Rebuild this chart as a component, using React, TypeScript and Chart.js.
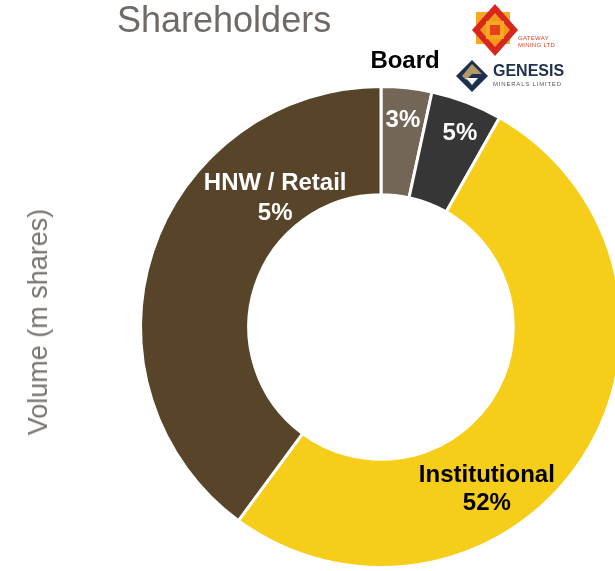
import React, { useEffect, useRef } from "react";
import { Chart, registerables } from "chart.js";

Chart.register(...registerables);

const categories = ["Board", "Genesis", "Institutional", "HNW / Retail"];
const shares = [3.4, 4.8, 51.9, 39.9];
const labelTexts = ["3%", "5%", "52%", "5%"];
const sliceColors = ["#736656", "#363636", "#F6CD18", "#574429"];

// label anchor offsets relative to the doughnut centre, in outer-radius units
const labelLayout = [
  { name: "Board", nameColor: "#000000", pctColor: "#ffffff", nx: 0.1, ny: -1.106, px: 0.091, py: -0.86 },
  { name: "", nameColor: "#ffffff", pctColor: "#ffffff", nx: 0, ny: 0, px: 0.328, py: -0.807 },
  { name: "Institutional", nameColor: "#000000", pctColor: "#000000", nx: 0.44, ny: 0.615, px: 0.44, py: 0.732 },
  { name: "HNW / Retail", nameColor: "#ffffff", pctColor: "#ffffff", nx: -0.44, ny: -0.599, px: -0.44, py: -0.474 },
];

const labelPlugin = {
  id: "sliceLabels",
  afterDatasetsDraw(chart: any) {
    const meta = chart.getDatasetMeta(0);
    const ctx = chart.ctx;
    ctx.save();
    ctx.textAlign = "center";
    ctx.textBaseline = "middle";
    ctx.font = "bold 24px 'Liberation Sans', Arial, sans-serif";
    meta.data.forEach((arc: any, i: number) => {
      const L = labelLayout[i];
      const cx = arc.x;
      const cy = arc.y;
      const r = arc.outerRadius;
      if (L.name) {
        ctx.fillStyle = L.nameColor;
        ctx.fillText(L.name, cx + L.nx * r, cy + L.ny * r);
      }
      ctx.fillStyle = L.pctColor;
      ctx.fillText(labelTexts[i], cx + L.px * r, cy + L.py * r);
    });
    ctx.restore();
  },
};

function GatewayLogo() {
  return (
    <div style={{ position: "absolute", left: 470, top: 2, width: 100, height: 56 }}>
      <svg width="50" height="56" viewBox="0 0 50 56" style={{ position: "absolute", left: 0, top: 0 }}>
        <rect x="6" y="10" width="34" height="32" fill="#F7A823" />
        <polygon points="25,2 48,28 25,54 2,28" fill="#D9261C" />
        <polygon points="25,11 40,28 25,45 10,28" fill="#F39A1D" />
        <rect x="16" y="19" width="18" height="18" fill="#F7A823" />
        <rect x="20" y="23" width="10" height="10" fill="#E8401C" />
      </svg>
      <div style={{ position: "absolute", left: 48, top: 33, fontFamily: "'Liberation Sans', Arial, sans-serif", fontSize: 6, lineHeight: "7px", color: "#D9431E", letterSpacing: 0.3 }}>
        GATEWAY<br />MINING LTD
      </div>
    </div>
  );
}

function GenesisLogo() {
  return (
    <div style={{ position: "absolute", left: 454, top: 58, width: 120, height: 36 }}>
      <svg width="36" height="36" viewBox="0 0 36 36" style={{ position: "absolute", left: 0, top: 0 }}>
        <polygon points="18,2 34,18 18,34 2,18" fill="#1F2F4E" />
        <polygon points="18,6 28,16 18,16 12,22 8,18" fill="#B49A67" />
        <polygon points="18,20 24,20 18,27 12,20" fill="#ffffff" />
      </svg>
      <div style={{ position: "absolute", left: 39, top: 4, fontFamily: "'Liberation Sans', Arial, sans-serif", fontWeight: "bold", fontSize: 16, lineHeight: "18px", color: "#1F2F4E" }}>
        GENESIS
      </div>
      <div style={{ position: "absolute", left: 39, top: 23, fontFamily: "'Liberation Sans', Arial, sans-serif", fontSize: 6, lineHeight: "7px", color: "#555", letterSpacing: 0.8 }}>
        MINERALS LIMITED
      </div>
    </div>
  );
}

export default function App() {
  const canvasRef = useRef<HTMLCanvasElement | null>(null);

  useEffect(() => {
    if (!canvasRef.current) return;
    const chart = new Chart(canvasRef.current, {
      type: "doughnut",
      data: {
        labels: categories,
        datasets: [
          {
            data: shares,
            backgroundColor: sliceColors,
            borderColor: "#ffffff",
            borderWidth: 3,
          },
        ],
      },
      options: {
        responsive: false,
        animation: false,
        cutout: "55%",
        layout: { padding: { left: 139, top: 85, right: 17, bottom: 2 } },
        plugins: {
          legend: { display: false },
          tooltip: { enabled: false },
          title: { display: false },
        },
      },
      plugins: [labelPlugin],
    });
    return () => chart.destroy();
  }, []);

  return (
    <div style={{ position: "absolute", left: 0, top: 0, width: 615, height: 571, overflow: "hidden", background: "#ffffff" }}>
      <canvas ref={canvasRef} width={640} height={571} style={{ position: "absolute", left: 0, top: 0 }} />
      <div style={{ position: "absolute", left: 117, top: -2, fontFamily: "'Liberation Sans', Arial, sans-serif", fontSize: 36, lineHeight: "44px", color: "#6F6A66", whiteSpace: "nowrap" }}>
        Shareholders
      </div>
      <div style={{ position: "absolute", left: 38, top: 322, transform: "translate(-50%, -50%) rotate(-90deg)", fontFamily: "'Liberation Sans', Arial, sans-serif", fontSize: 27, lineHeight: "30px", color: "#7A7470", whiteSpace: "nowrap" }}>
        Volume (m shares)
      </div>
      <GatewayLogo />
      <GenesisLogo />
    </div>
  );
}
